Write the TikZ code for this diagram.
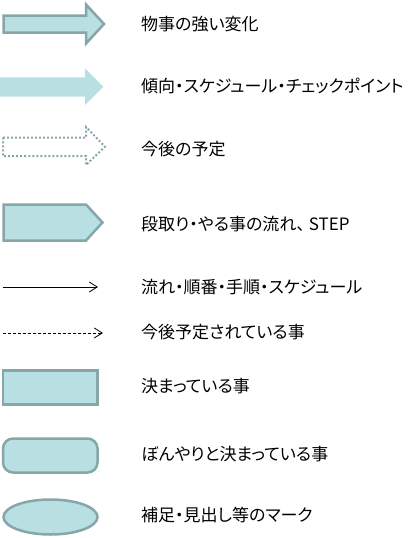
\documentclass[tikz,border=0pt]{standalone}
\usepackage{fontspec}
\newfontfamily\jpfont[RawFeature=+palt]{Noto Sans CJK JP}
\usepackage{tikz}
\usetikzlibrary{arrows.meta}

\definecolor{markfill}{RGB}{184,223,226}
\definecolor{markline}{RGB}{135,166,168}

\begin{document}
\begin{tikzpicture}[x=1pt, y=-1pt,
    markshape/.style={draw=markline, line width=2.5pt, fill=markfill},
    legend/.style={anchor=west, inner sep=0pt, font=\jpfont\fontsize{17}{20}\selectfont},
    barb/.style={-{Straight Barb[length=8pt, width=10pt]}, line width=0.8pt}]
    \useasboundingbox (0,0) rectangle (418,538);

    % Block arrows
    \draw[markshape] (3.5,15.5) -- (86,15.5) -- (86,4.5) -- (104,24) -- (86,43.5) -- (86,32.5) -- (3.5,32.5) -- cycle;
    \fill[markfill] (0,77.3) -- (85,77.3) -- (85,68.3) -- (103.3,86.7) -- (85,105) -- (85,96.7) -- (0,96.7) -- cycle;
    \draw[markline, line width=2pt, dash pattern=on 2pt off 2pt] (3,137.5) -- (86,137.5) -- (86,127) -- (105,146.7) -- (86,165) -- (86,156) -- (3,156) -- cycle;

    % Step
    \draw[markshape] (3.5,204.5) -- (86,204.5) -- (102.5,222.5) -- (86,240.5) -- (3.5,240.5) -- cycle;

    % Connectors
    \coordinate (flowstart) at (3,287);
    \coordinate (flowend) at (98,287);
    \coordinate (planstart) at (3,333);
    \coordinate (planend) at (103,333);
    \draw[barb] (flowstart) -- (flowend);
    \draw[barb, dash pattern=on 3pt off 2pt] (planstart) -- (planend);

    % Boxes
    \draw[markshape] (3,370.5) rectangle (97.5,404.5);
    \draw[markshape, rounded corners=10pt] (3,438.5) rectangle (97.5,472.5);
    \draw[markshape] (50.5,517) ellipse [x radius=47, y radius=17.5];

    % Labels
    \node[legend] (strong) at (141,24) {物事の強い変化};
    \node[legend] (trend) at (141,86) {傾向・スケジュール・チェックポイント};
    \node[legend] (future) at (141,149) {今後の予定};
    \node[legend] (step) at (141,224) {段取り・やる事の流れ、 STEP};
    \node[legend] (flow) at (141,287) {流れ・順番・手順・スケジュール};
    \node[legend] (planned) at (141,332) {今後予定されている事};
    \node[legend] (decided) at (141,386) {決まっている事};
    \node[legend] (vague) at (141,454) {ぼんやりと決まっている事};
    \node[legend] (note) at (141,515) {補足・見出し等のマーク};

\end{tikzpicture}
\end{document}
